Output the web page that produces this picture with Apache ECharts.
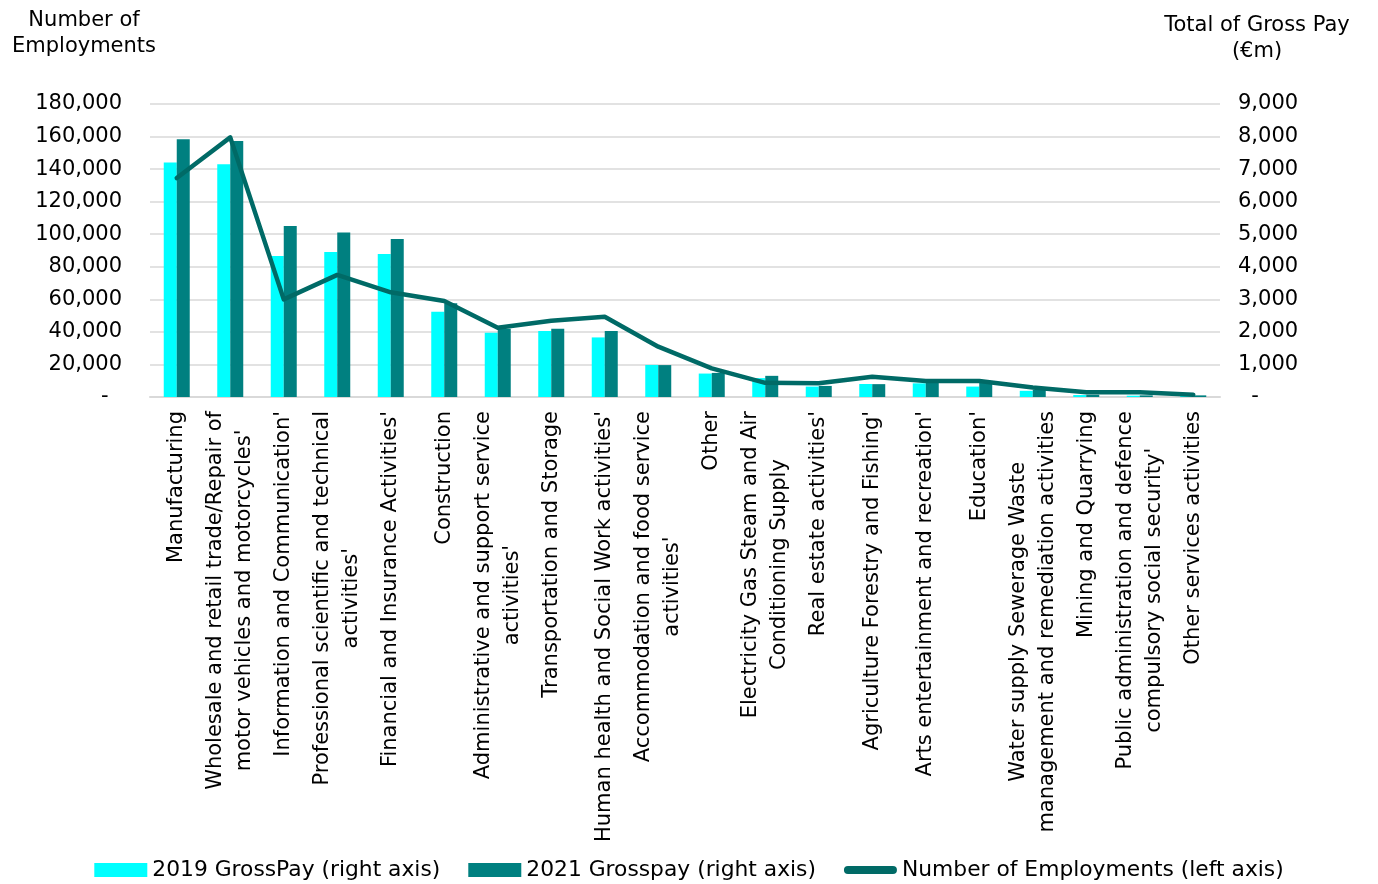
<!DOCTYPE html>
<html>
<head>
<meta charset="utf-8">
<title>Employments and Gross Pay by Sector</title>
<script src="https://cdn.jsdelivr.net/npm/echarts@6/dist/echarts.min.js"></script>
<style>
  html, body { margin: 0; padding: 0; background: #fff; }
  #chart { width: 1378px; height: 884px; }
</style>
</head>
<body>
<div id="chart"></div>
<script>
// Sector names (line breaks are where the labels wrap)
const sectors = [
  "Manufacturing",
  "Wholesale and retail trade/Repair of\nmotor vehicles and motorcycles'",
  "Information and Communication'",
  "Professional scientific and technical\nactivities'",
  "Financial and Insurance Activities'",
  "Construction",
  "Administrative and support service\nactivities'",
  "Transportation and Storage",
  "Human health and Social Work activities'",
  "Accommodation and food service\nactivities'",
  "Other",
  "Electricity Gas Steam and Air\nConditioning Supply",
  "Real estate activities'",
  "Agriculture Forestry and Fishing'",
  "Arts entertainment and recreation'",
  "Education'",
  "Water supply Sewerage Waste\nmanagement and remediation activities",
  "Mining and Quarrying",
  "Public administration and defence\ncompulsory social security'",
  "Other services activities"
];

// Total gross pay, €m (right axis)
const grossPay2019 = [7200, 7150, 4330, 4455, 4390, 2620, 1975, 2030, 1830, 985, 720, 580, 320, 400, 420, 320, 190, 60, 40, 30];
const grossPay2021 = [7920, 7860, 5250, 5050, 4850, 2880, 2100, 2100, 2030, 980, 740, 650, 340, 395, 450, 470, 220, 70, 50, 50];

// Number of employments (left axis)
const employments = [134500, 159500, 60000, 75000, 64300, 59000, 42600, 46900, 49300, 30900, 17600, 8700, 8500, 12500, 9800, 9800, 5900, 2900, 2900, 1400];

// Axis ranges and tick steps
const leftAxisMax = 180000, leftAxisStep = 20000;
const rightAxisMax = 9000, rightAxisStep = 1000;

// Axis titles
const leftAxisTitle = "Number of\nEmployments";
const rightAxisTitle = "Total of Gross Pay\n(€m)";

const seriesNames = ["2019 GrossPay (right axis)", "2021 Grosspay (right axis)", "Number of Employments (left axis)"];

const FONT = "'DejaVu Sans', Verdana, sans-serif";
const TEXT_COLOR = "#000";
const GRID_COLOR = "#d9d9d9";
const LINE_COLOR = "#006a66";

function thousands(v) {
  return String(Math.round(v)).replace(/\B(?=(\d{3})+(?!\d))/g, ",");
}

const chart = echarts.init(document.getElementById("chart"), null, { renderer: "canvas" });

chart.setOption({
  animation: false,
  backgroundColor: "#fff",
  textStyle: { fontFamily: FONT },
  grid: { left: 150, right: 158, top: 104, bottom: 487, containLabel: false },
  graphic: [
    {
      type: "text",
      x: 84, y: 8,
      style: {
        text: leftAxisTitle,
        align: "center",
        verticalAlign: "top",
        font: "21px " + FONT,
        lineHeight: 26,
        fill: TEXT_COLOR
      }
    },
    {
      type: "text",
      x: 1257, y: 13,
      style: {
        text: rightAxisTitle,
        align: "center",
        verticalAlign: "top",
        font: "21px " + FONT,
        lineHeight: 26,
        fill: TEXT_COLOR
      }
    }
  ],
  legend: {
    left: "center",
    top: 854,
    itemWidth: 53,
    itemHeight: 14,
    itemGap: 28,
    textStyle: { fontSize: 21.8, fontFamily: FONT, color: TEXT_COLOR },
    data: [
      { name: seriesNames[0], icon: "rect" },
      { name: seriesNames[1], icon: "rect" },
      // thick rounded stroke for the line series
      { name: seriesNames[2], icon: "path://M4,0 L49,0 A4,4 0 0 1 49,8 L4,8 A4,4 0 0 1 4,0 Z" }
    ]
  },
  xAxis: {
    type: "category",
    data: sectors,
    boundaryGap: true,
    axisLine: { show: true, lineStyle: { color: GRID_COLOR, width: 2 } },
    axisTick: { show: false },
    axisLabel: {
      interval: 0,
      rotate: 90,
      margin: 14,
      formatter: function (v) {
        return v.split("\n").map(function (l) { return "{c|" + l + "}"; }).join("\n");
      },
      rich: {
        c: { fontSize: 21, fontFamily: FONT, color: TEXT_COLOR, lineHeight: 29, align: "center" }
      }
    }
  },
  yAxis: [
    {
      type: "value",
      min: 0,
      max: leftAxisMax,
      interval: leftAxisStep,
      position: "left",
      axisLine: { show: false },
      axisTick: { show: false },
      splitLine: { show: true, lineStyle: { color: GRID_COLOR, width: 1.5 } },
      axisLabel: {
        margin: 28,
        fontSize: 21,
        fontFamily: FONT,
        color: TEXT_COLOR,
        formatter: function (v) { return v === 0 ? "-  " : thousands(v); }
      }
    },
    {
      type: "value",
      min: 0,
      max: rightAxisMax,
      interval: rightAxisStep,
      position: "right",
      axisLine: { show: false },
      axisTick: { show: false },
      splitLine: { show: false },
      axisLabel: {
        margin: 18,
        fontSize: 21,
        fontFamily: FONT,
        color: TEXT_COLOR,
        formatter: function (v) { return v === 0 ? "  -" : thousands(v); }
      }
    }
  ],
  series: [
    {
      name: seriesNames[0],
      type: "bar",
      yAxisIndex: 1,
      data: grossPay2019,
      barWidth: 13,
      barGap: "0%",
      itemStyle: { color: "#00ffff" }
    },
    {
      name: seriesNames[1],
      type: "bar",
      yAxisIndex: 1,
      data: grossPay2021,
      barWidth: 13,
      barGap: "0%",
      itemStyle: { color: "#008080" }
    },
    {
      name: seriesNames[2],
      type: "line",
      yAxisIndex: 0,
      data: employments,
      symbol: "none",
      smooth: false,
      z: 5,
      itemStyle: { color: LINE_COLOR },
      lineStyle: { color: LINE_COLOR, width: 4.5, cap: "round", join: "round" }
    }
  ]
});
</script>
</body>
</html>
